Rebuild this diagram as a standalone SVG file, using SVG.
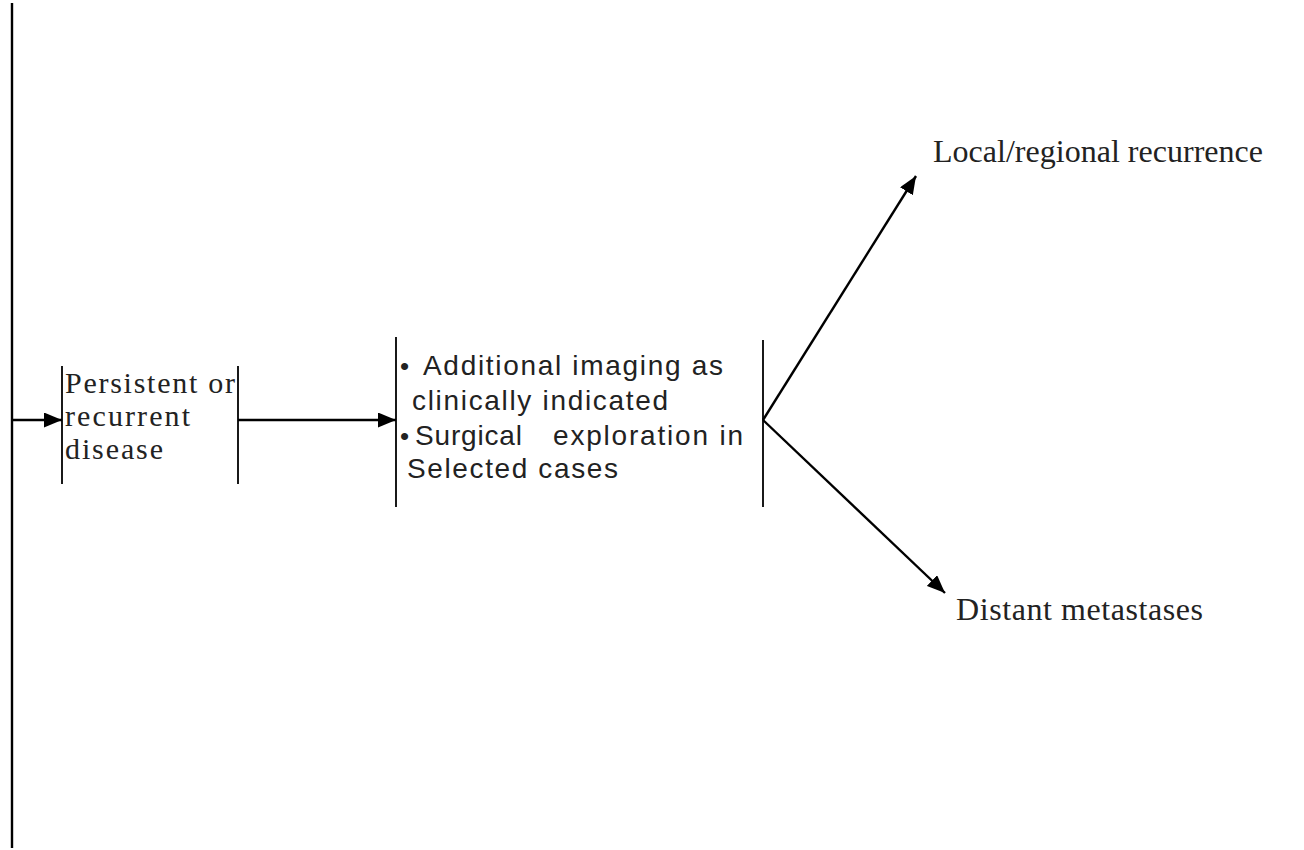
<svg xmlns="http://www.w3.org/2000/svg" width="1304" height="850" viewBox="0 0 1304 850">
<style>
.bar{stroke:#000;stroke-width:1.8;fill:none}
.conn{stroke:#000;stroke-width:2.4;fill:none}
.serif{font-family:"Liberation Serif","Times New Roman",serif;fill:#222}
.sans{font-family:"Liberation Sans",Arial,sans-serif;fill:#222}
</style>
<defs>
<marker id="ah" viewBox="0 0 18 15" refX="18" refY="7.5" markerWidth="18" markerHeight="15" markerUnits="userSpaceOnUse" orient="auto">
<path d="M0,0 L18,7.5 L0,15 Z" fill="#000"/>
</marker>
</defs>
<g id="spine"><line x1="12" y1="3" x2="12" y2="848" stroke="#000" stroke-width="2.4"/></g>
<g id="node-persistent">
<line class="bar" x1="62" y1="366" x2="62" y2="484"/>
<line class="bar" x1="238" y1="366" x2="238" y2="484"/>
<text class="serif" font-size="30" x="65" y="393" textLength="170" lengthAdjust="spacing">Persistent or</text>
<text class="serif" font-size="30" x="65" y="426" textLength="125" lengthAdjust="spacing">recurrent</text>
<text class="serif" font-size="30" x="65" y="459" textLength="98" lengthAdjust="spacing">disease</text>
</g>
<g id="node-imaging">
<line class="bar" x1="396" y1="337" x2="396" y2="507"/>
<text class="sans" font-size="26" x="400" y="375">•</text>
<text class="sans" font-size="28" x="423" y="375" textLength="300" lengthAdjust="spacing">Additional imaging as</text>
<text class="sans" font-size="28" x="412" y="410" textLength="256" lengthAdjust="spacing">clinically indicated</text>
<text class="sans" font-size="26" x="400" y="445">•</text>
<text class="sans" font-size="28" x="415" y="445" textLength="107" lengthAdjust="spacing">Surgical</text>
<text class="sans" font-size="28" x="553" y="445" textLength="190" lengthAdjust="spacing">exploration in</text>
<text class="sans" font-size="28" x="407" y="478" textLength="211" lengthAdjust="spacing">Selected cases</text>
</g>
<g id="node-branch">
<line class="bar" x1="763" y1="340" x2="763" y2="507"/>
</g>
<g id="node-local">
<text class="serif" font-size="32" x="933" y="162" textLength="330" lengthAdjust="spacing" fill="#000">Local/regional recurrence</text>
</g>
<g id="node-distant">
<text class="serif" font-size="32" x="956" y="620" textLength="247" lengthAdjust="spacing">Distant metastases</text>
</g>
<g id="connectors">
<line class="conn" x1="12" y1="420" x2="62" y2="420" marker-end="url(#ah)"/>
<line class="conn" x1="238" y1="420" x2="396" y2="420" marker-end="url(#ah)"/>
<line class="conn" x1="763" y1="420" x2="916" y2="176" marker-end="url(#ah)"/>
<line class="conn" x1="763" y1="420" x2="945" y2="593" marker-end="url(#ah)"/>
</g>
</svg>
